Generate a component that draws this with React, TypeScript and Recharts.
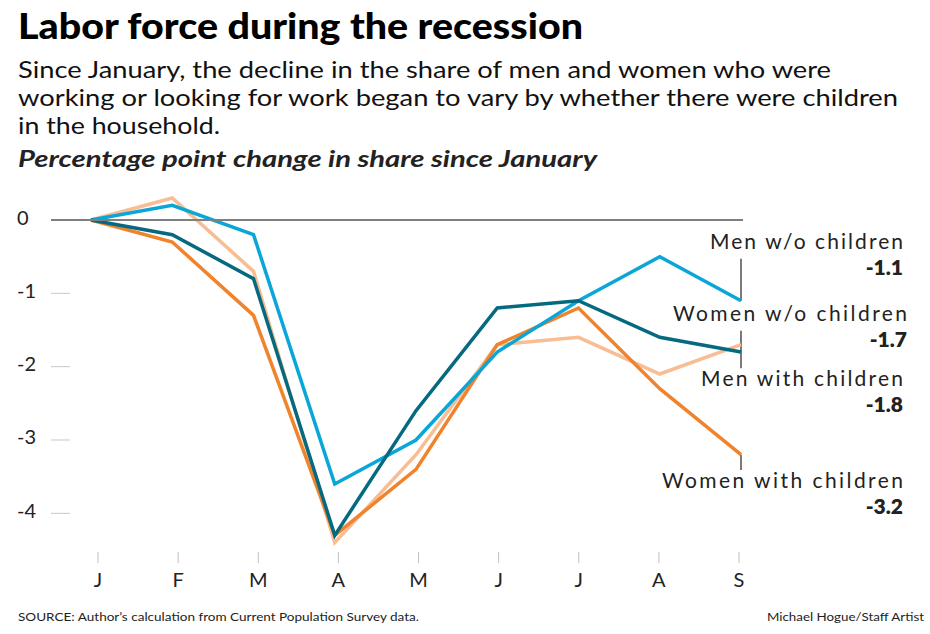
import React from 'react';
import { LineChart, Line, XAxis, YAxis, ReferenceLine, LabelList } from 'recharts';

const monthKeys = ['Jan', 'Feb', 'Mar', 'Apr', 'May', 'Jun', 'Jul', 'Aug', 'Sep'];
const monthTicks = ['J', 'F', 'M', 'A', 'M', 'J', 'J', 'A', 'S'];

const menNoKids = [0, 0.2, -0.2, -3.6, -3.0, -1.8, -1.1, -0.5, -1.1];
const womenNoKids = [0, 0.3, -0.7, -4.4, -3.2, -1.7, -1.6, -2.1, -1.7];
const menKids = [0, -0.2, -0.8, -4.3, -2.6, -1.2, -1.1, -1.6, -1.8];
const womenKids = [0, -0.3, -1.3, -4.3, -3.4, -1.7, -1.2, -2.3, -3.2];

const yTicks = [0, -1, -2, -3, -4];

const titleText = 'Labor force during the recession';
const subtitleLines = [
  'Since January, the decline in the share of men and women who were',
  'working or looking for work began to vary by whether there were children',
  'in the household.',
];
const unitText = 'Percentage point change in share since January';
const sourceText = 'SOURCE: Author\u2019s calculation from Current Population Survey data.';
const creditText = 'Michael Hogue/Staff Artist';

// leader lines at September (data units)
const leaders = [
  [-0.53, -1.1],
  [-1.51, -2.02],
  [-3.2, -3.41],
];

const FONT = "Lato, 'Open Sans', 'Noto Sans', sans-serif";
const TEXT = '#222';

const data = monthKeys.map((m, i) => ({
  month: m,
  menNoKids: menNoKids[i],
  womenNoKids: womenNoKids[i],
  menKids: menKids[i],
  womenKids: womenKids[i],
}));

const series = [
  { key: 'womenNoKids', name: 'Women w/o children', values: womenNoKids, color: '#f8bd93', dx: 166, dy: -23, w: 234 },
  { key: 'womenKids', name: 'Women with children', values: womenKids, color: '#f0832b', dx: 162, dy: 34, w: 241 },
  { key: 'menNoKids', name: 'Men w/o children', values: menNoKids, color: '#0aa6d8', dx: 162, dy: -51, w: 193 },
  { key: 'menKids', name: 'Men with children', values: menKids, color: '#05697f', dx: 162, dy: 35, w: 202 },
];

const YTick = (p: any) => {
  const v = p.payload.value;
  return (
    <g>
      {v === 0 ? (
        <line x1={51} x2={743} y1={p.y} y2={p.y} stroke="#7f7f7f" strokeWidth={2} />
      ) : (
        <line x1={51} x2={70} y1={p.y} y2={p.y} stroke="#c8c8c8" strokeWidth={1} />
      )}
      <text x={17} y={p.y} dy={4.5} fontFamily={FONT} fontSize={20} fill={TEXT}>
        {String(v)}
      </text>
    </g>
  );
};

const XTick = (p: any) => (
  <g>
    <line x1={p.x} x2={p.x} y1={552} y2={563} stroke="#c0c0c0" strokeWidth={1} />
    <text x={p.x} y={587} textAnchor="middle" fontFamily={FONT} fontSize={20} fill={TEXT}>
      {monthTicks[p.index]}
    </text>
  </g>
);

const makeLabel = (s: any) => (p: any) => {
  const last = monthKeys.length - 1;
  if (p.index !== last) return null;
  const x = p.x + s.dx;
  const y = p.y + s.dy;
  return (
    <g>
      <text
        x={x}
        y={y - 1}
        textAnchor="end"
        fontFamily={FONT}
        fontSize={21}
        fill={TEXT}
        textLength={s.w}
        lengthAdjust="spacing"
      >
        {s.name}
      </text>
      <text x={x} y={y + 25} textAnchor="end" fontFamily={FONT} fontSize={21} fontWeight={800} fill={TEXT}>
        {s.values[last].toFixed(1)}
      </text>
    </g>
  );
};

export default function App() {
  return (
    <div style={{ position: 'absolute', left: 0, top: 0, width: 930, height: 634, background: '#fff' }}>
      <div style={{ position: 'absolute', left: 0, top: 0 }}>
        <LineChart
          width={930}
          height={634}
          data={data}
          margin={{ top: 190.667, right: 189, bottom: 16.667, left: 18 }}
        >
          <YAxis
            type="number"
            domain={[-4.6, 0.4]}
            ticks={yTicks}
            width={73}
            axisLine={false}
            tickLine={false}
            tick={<YTick />}
            interval={0}
          />
          <XAxis dataKey="month" hide />
          <XAxis
            xAxisId="t"
            dataKey="month"
            height={60}
            axisLine={false}
            tickLine={false}
            tick={<XTick />}
            interval={0}
            padding={{ left: 7, right: 2 }}
          />
          {leaders.map((l, i) => (
            <ReferenceLine
              key={i}
              segment={[
                { x: monthKeys[monthKeys.length - 1], y: l[0] },
                { x: monthKeys[monthKeys.length - 1], y: l[1] },
              ]}
              stroke="#222"
              strokeWidth={1.2}
            />
          ))}
          {series.map((s) => (
            <Line
              key={s.key}
              dataKey={s.key}
              stroke={s.color}
              strokeWidth={3.5}
              dot={false}
              activeDot={false}
              isAnimationActive={false}
              strokeLinejoin="miter"
            >
              <LabelList dataKey={s.key} content={makeLabel(s)} />
            </Line>
          ))}
        </LineChart>
      </div>
      <svg
        width={930}
        height={634}
        style={{ position: 'absolute', left: 0, top: 0, pointerEvents: 'none' }}
      >
        <text x={18} y={39} fontFamily={FONT} fontSize={36} fontWeight={900} fill="#000" textLength={565} lengthAdjust="spacingAndGlyphs">
          {titleText}
        </text>
        {subtitleLines.map((t, i) => (
          <text
            key={i}
            x={18}
            y={78 + i * 28}
            fontFamily={FONT}
            fontSize={23}
            fill="#111"
            textLength={[813, 880, 202][i]}
            lengthAdjust="spacingAndGlyphs"
          >
            {t}
          </text>
        ))}
        <text x={18} y={167} fontFamily={FONT} fontSize={22} fontWeight={700} fontStyle="italic" fill={TEXT} textLength={579} lengthAdjust="spacingAndGlyphs">
          {unitText}
        </text>
        <text x={18} y={621} fontFamily={FONT} fontSize={11.5} fill={TEXT} textLength={401} lengthAdjust="spacingAndGlyphs">
          {sourceText}
        </text>
        <text x={924} y={621} textAnchor="end" fontFamily={FONT} fontSize={11.5} fill={TEXT} textLength={157} lengthAdjust="spacingAndGlyphs">
          {creditText}
        </text>
      </svg>
    </div>
  );
}
